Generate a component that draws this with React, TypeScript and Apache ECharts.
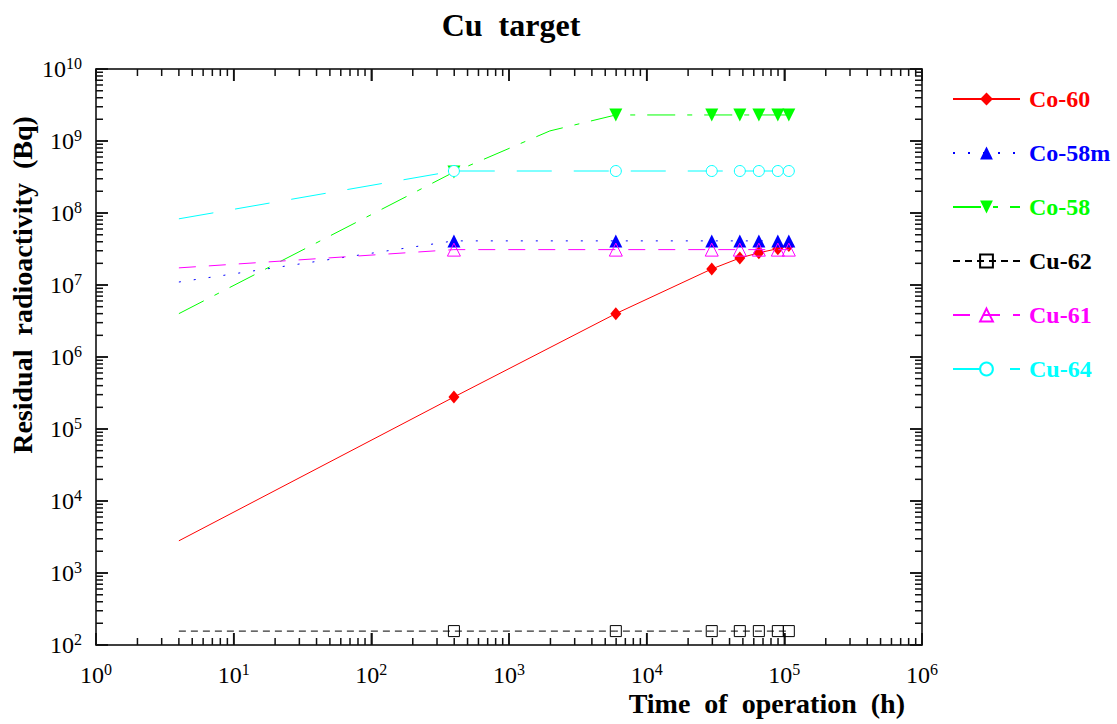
import React, { useEffect, useRef } from 'react';
import * as echarts from 'echarts';

// Time of operation (h)
const times = [4, 398, 1980, 5970, 29700, 47500, 65300, 89700, 107800];
// Residual radioactivity (Bq); null = no value at that time
const co60 = [2.8e3, 2.78e5, null, 4.0e6, 1.67e7, 2.37e7, 2.8e7, 3.2e7, 3.55e7];
const co58m = [1.1e7, 4.1e7, null, 4.1e7, 4.1e7, 4.1e7, 4.1e7, 4.1e7, 4.1e7];
const co58 = [4.0e6, 3.7e8, 1.38e9, 2.3e9, 2.3e9, 2.3e9, 2.3e9, 2.3e9, 2.3e9];
const cu62 = [156, 156, null, 156, 156, 156, 156, 156, 156];
const cu61 = [1.73e7, 3.1e7, null, 3.1e7, 3.1e7, 3.1e7, 3.1e7, 3.1e7, 3.1e7];
const cu64 = [8.3e7, 3.83e8, null, 3.83e8, 3.83e8, 3.83e8, 3.83e8, 3.83e8, 3.83e8];

const names = ['Co-60', 'Co-58m', 'Co-58', 'Cu-62', 'Cu-61', 'Cu-64'];
const colors = ['#ff0000', '#0000ff', '#00ff00', '#000000', '#ff00ff', '#00ffff'];

// axis ranges (decade exponents)
const xExpMin = 0;
const xExpMax = 6;
const yExpMin = 2;
const yExpMax = 10;

const W = 1117;
const H = 724;
const GRID = { left: 96, top: 69, right: 195, bottom: 79 };

const FONT = '"Liberation Serif", "Times New Roman", serif';

export default function App() {
  const ref = useRef<HTMLDivElement>(null);

  useEffect(() => {
    const chart = echarts.init(ref.current!, null, { renderer: 'svg' });

    const xMin = Math.pow(10, xExpMin);
    const xMax = Math.pow(10, xExpMax);
    const yMin = Math.pow(10, yExpMin);
    const yMax = Math.pow(10, yExpMax);

    const mkData = (vals: (number | null)[], hideIdx: number[]) =>
      times
        .map((t, i) => {
          if (vals[i] === null) return null;
          const item: any = { value: [t, vals[i]] };
          if (hideIdx.includes(i)) item.symbol = 'none';
          return item;
        })
        .filter((d) => d !== null);

    const mkSeries = (
      idx: number,
      vals: (number | null)[],
      dash: any,
      symbol: string,
      size: any,
      fill: string | null,
      rotate = 0
    ) => ({
      name: names[idx],
      type: 'line',
      data: mkData(vals, [0, 2]),
      symbol,
      symbolSize: size,
      symbolRotate: rotate,
      showAllSymbol: true,
      z: 3 + idx,
      lineStyle: { color: colors[idx], width: 1, type: dash },
      itemStyle: fill
        ? { color: fill, borderColor: colors[idx], borderWidth: 1 }
        : { color: colors[idx], borderWidth: 0 },
    });

    // Tick marks (major 10^k, minor 2..9 x 10^k) as short two-point line series.
    // Their inner ends are the tick length converted to decades of the log axes.
    const pxPerDecX = (W - GRID.left - GRID.right) / (xExpMax - xExpMin);
    const pxPerDecY = (H - GRID.top - GRID.bottom) / (yExpMax - yExpMin);
    const tickSeries: any[] = [];
    const seg = (a: number[], b: number[]) => ({
      type: 'line',
      data: [a, b],
      symbol: 'none',
      silent: true,
      z: 2,
      lineStyle: { color: '#111', width: 1.5, type: 'solid' },
    });
    const lenOf = (m: number) => (m === 1 ? 12 : 7);
    for (let k = xExpMin; k <= xExpMax; k++) {
      for (let m = 1; m <= 9; m++) {
        if (k === xExpMax && m > 1) break;
        const v = m * Math.pow(10, k);
        const f = Math.pow(10, lenOf(m) / pxPerDecY);
        tickSeries.push(seg([v, yMin], [v, yMin * f]));
        tickSeries.push(seg([v, yMax], [v, yMax / f]));
      }
    }
    for (let k = yExpMin; k <= yExpMax; k++) {
      for (let m = 1; m <= 9; m++) {
        if (k === yExpMax && m > 1) break;
        const v = m * Math.pow(10, k);
        const f = Math.pow(10, lenOf(m) / pxPerDecX);
        tickSeries.push(seg([xMin, v], [xMin * f, v]));
        tickSeries.push(seg([xMax, v], [xMax / f, v]));
      }
    }

    const labelFmt = (v: number) => `{b|10}{s|${Math.round(Math.log10(v))}}`;
    const rich = {
      b: { fontSize: 24, fontFamily: FONT, color: '#000', lineHeight: 28, verticalAlign: 'middle' },
      s: { fontSize: 16, fontFamily: FONT, color: '#000', lineHeight: 16, verticalAlign: 'top' },
    };

    const axisCommon: any = {
      type: 'log',
      axisLine: { show: true, lineStyle: { color: '#000', width: 1.5 } },
      axisTick: { show: true, inside: true, length: 12, lineStyle: { color: '#111', width: 1.5 } },
      splitLine: { show: false },
    };

    const option: any = {
      animation: false,
      grid: { ...GRID, containLabel: false },
      xAxis: [
        {
          ...axisCommon,
          min: xMin,
          max: xMax,
          position: 'bottom',
          axisLabel: { formatter: labelFmt, rich, margin: 16, showMinLabel: true, showMaxLabel: true },
        },
        { ...axisCommon, min: xMin, max: xMax, position: 'top', axisLabel: { show: false } },
      ],
      yAxis: [
        {
          ...axisCommon,
          min: yMin,
          max: yMax,
          position: 'left',
          axisLabel: { formatter: labelFmt, rich, margin: 14, showMinLabel: true, showMaxLabel: true },
        },
        { ...axisCommon, min: yMin, max: yMax, position: 'right', axisLabel: { show: false } },
      ],
      legend: {
        orient: 'vertical',
        left: 952,
        top: 87,
        padding: 0,
        itemWidth: 67,
        itemHeight: 16,
        itemGap: 30,
        textStyle: { fontSize: 24, fontWeight: 'bold', fontFamily: FONT, padding: [0, 0, 0, 4] },
        data: names.map((n, i) => ({ name: n, textStyle: { color: colors[i] } })),
      },
      graphic: [
        {
          type: 'text',
          x: 511,
          y: 25,
          style: {
            text: 'Cu  target',
            fontSize: 32,
            fontWeight: 'bold',
            fontFamily: FONT,
            fill: '#000',
            align: 'center',
            verticalAlign: 'middle',
          },
        },
        {
          type: 'text',
          x: 905,
          y: 703,
          style: {
            text: 'Time  of  operation  (h)',
            fontSize: 28,
            fontWeight: 'bold',
            fontFamily: FONT,
            fill: '#000',
            align: 'right',
            verticalAlign: 'middle',
          },
        },
        {
          type: 'text',
          x: 22,
          y: 285,
          rotation: Math.PI / 2,
          style: {
            text: 'Residual  radioactivity  (Bq)',
            fontSize: 28,
            fontWeight: 'bold',
            fontFamily: FONT,
            fill: '#000',
            align: 'center',
            verticalAlign: 'middle',
          },
        },
      ],
      series: [
        ...tickSeries,
        mkSeries(0, co60, 'solid', 'diamond', [11, 13], null),
        mkSeries(1, co58m, [2, 13], 'triangle', 13, null),
        mkSeries(2, co58, [28, 12, 5, 12], 'triangle', 13, null, 180),
        mkSeries(3, cu62, [7, 5], 'rect', 11, 'rgba(255,255,255,0)'),
        mkSeries(4, cu61, [17, 13], 'triangle', 13, 'rgba(255,255,255,0)'),
        mkSeries(5, cu64, [35, 22], 'circle', 11, '#ffffff'),
      ],
    };

    chart.setOption(option);
    return () => chart.dispose();
  }, []);

  return (
    <div
      ref={ref}
      style={{ position: 'absolute', left: 0, top: 0, width: W + 'px', height: H + 'px', background: '#fff' }}
    />
  );
}
